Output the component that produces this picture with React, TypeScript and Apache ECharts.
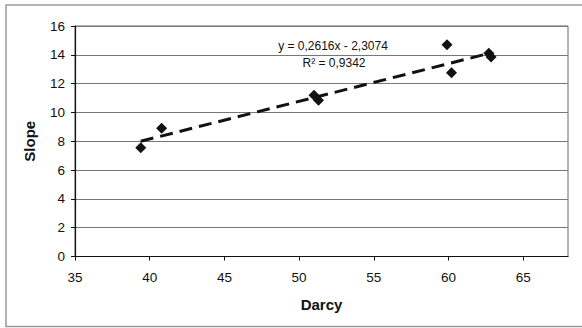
import React, { useEffect, useRef } from "react";
import * as echarts from "echarts";

const darcy = [39.4, 40.8, 51.0, 51.3, 59.9, 60.2, 62.7, 62.85];
const slope = [7.55, 8.9, 11.2, 10.85, 14.7, 12.75, 14.1, 13.85];
const trendSlope = 0.2616;
const trendIntercept = -2.3074;
const equationText = "y = 0,2616x - 2,3074";
const r2Text = "R² = 0,9342";
const xRange = [35, 68];
const yRange = [0, 16];

export default function App() {
  const ref = useRef<HTMLDivElement>(null);
  useEffect(() => {
    document.body.style.margin = "0";
    const chart = echarts.init(ref.current!, undefined, { renderer: "svg" });
    const xMin = Math.min(...darcy);
    const xMax = Math.max(...darcy);
    const trend = [
      [xMin, trendSlope * xMin + trendIntercept],
      [xMax, trendSlope * xMax + trendIntercept],
    ];
    const font = "'Liberation Sans', Arial, sans-serif";
    chart.setOption({
      animation: false,
      backgroundColor: "#ffffff",
      grid: {
        left: 75,
        right: 14,
        top: 26,
        bottom: 71.5,
        show: true,
        borderColor: "#666",
        borderWidth: 1,
      },
      xAxis: {
        type: "value",
        min: xRange[0],
        max: xRange[1],
        interval: 5,
        name: "Darcy",
        nameLocation: "middle",
        nameGap: 40,
        nameTextStyle: { fontFamily: font, fontSize: 15, fontWeight: "bold", color: "#111" },
        axisLine: { show: true, onZero: false, lineStyle: { color: "#111", width: 1.2 } },
        axisTick: { show: true, length: 4, lineStyle: { color: "#111" } },
        axisLabel: {
          showMaxLabel: false,
          margin: 14,
          fontFamily: font,
          fontSize: 13.5,
          color: "#111",
        },
        splitLine: { show: false },
      },
      yAxis: {
        type: "value",
        min: yRange[0],
        max: yRange[1],
        interval: 2,
        name: "Slope",
        nameLocation: "middle",
        nameGap: 38,
        nameTextStyle: { fontFamily: font, fontSize: 15, fontWeight: "bold", color: "#111" },
        axisLine: { show: true, lineStyle: { color: "#111", width: 1.2 } },
        axisTick: { show: true, length: 4, lineStyle: { color: "#111" } },
        axisLabel: { margin: 10, fontFamily: font, fontSize: 13.5, color: "#111" },
        splitLine: { show: true, lineStyle: { color: "#777", width: 1 } },
      },
      graphic: [
        {
          type: "rect",
          shape: { x: 6, y: 5, width: 600, height: 321.5 },
          style: { fill: "none", stroke: "#999", lineWidth: 1.5 },
          silent: true,
          z: -1,
        },
        {
          type: "text",
          x: 333,
          y: 46,
          style: {
            text: equationText,
            font: "12px 'Liberation Sans', Arial, sans-serif",
            fill: "#111",
            align: "center",
            verticalAlign: "middle",
          },
        },
        {
          type: "text",
          x: 334,
          y: 63,
          style: {
            text: r2Text,
            font: "12px 'Liberation Sans', Arial, sans-serif",
            fill: "#111",
            align: "center",
            verticalAlign: "middle",
          },
        },
      ],
      series: [
        {
          type: "line",
          data: trend,
          symbol: "none",
          lineStyle: { color: "#111", width: 3, type: [13, 7] },
          z: 3,
        },
        {
          type: "scatter",
          data: darcy.map((d, i) => [d, slope[i]]),
          symbol: "diamond",
          symbolSize: 11,
          itemStyle: { color: "#111", opacity: 1 },
          z: 4,
        },
      ],
    });
    return () => chart.dispose();
  }, []);
  return <div ref={ref} style={{ width: 582, height: 328 }} />;
}
